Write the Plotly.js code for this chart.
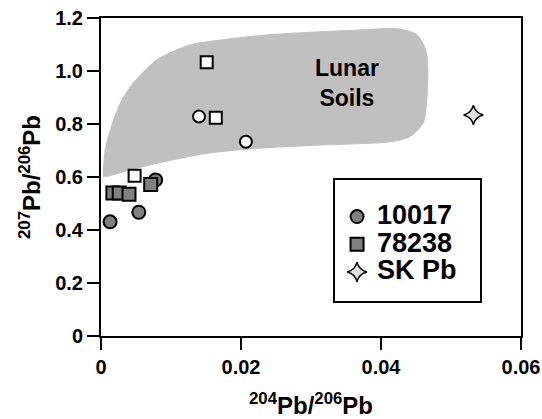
<!DOCTYPE html>
<html>
<head>
<meta charset="utf-8">
<script src="https://cdn.plot.ly/plotly-3.0.1.min.js"></script>
<style>html,body{margin:0;padding:0;background:#fff;}#chart{width:542px;height:419px;}</style>
</head>
<body>
<div id="chart"></div>
<script>
// Sample 10017 (filled grey circles)
const s10017_x = [0.0078, 0.0054, 0.0013];
const s10017_y = [0.589, 0.467, 0.431];
// Sample 78238 (filled grey squares)
const s78238_x = [0.0071, 0.0017, 0.0026, 0.0040];
const s78238_y = [0.572, 0.540, 0.540, 0.535];
// SK Pb (star)
const skpb_x = [0.0532];
const skpb_y = [0.834];
// Lunar soil open circles / squares
const openCirc_x = [0.0140, 0.0207];
const openCirc_y = [0.828, 0.733];
const openSq_x = [0.0048, 0.0151, 0.0164];
const openSq_y = [0.605, 1.033, 0.824];
// Lunar soils field outline
const field_x = [0.0003, 0.0006, 0.0018, 0.0030, 0.0046, 0.0080, 0.0127, 0.0174, 0.0241, 0.0356, 0.0427, 0.0452, 0.0465, 0.0465, 0.0460, 0.0441, 0.0413, 0.0317, 0.0222, 0.0151, 0.0080, 0.0032, 0.0008];
const field_y = [0.601, 0.702, 0.815, 0.891, 0.954, 1.042, 1.098, 1.118, 1.137, 1.153, 1.158, 1.135, 1.067, 0.878, 0.804, 0.752, 0.733, 0.721, 0.708, 0.689, 0.652, 0.620, 0.601];
const seriesNames = ['10017', '78238', 'SK Pb'];
const xTickVals = [0, 0.02, 0.04, 0.06];
const xTickText = ['0', '0.02', '0.04', '0.06'];
const yTickVals = [0, 0.2, 0.4, 0.6, 0.8, 1.0, 1.2];
const yTickText = ['0', '0.2', '0.4', '0.6', '0.8', '1.0', '1.2'];

const FONT = 'Liberation Sans, Arial, sans-serif';
const bold = s => '<b>' + s + '</b>';
const legName = s => '<span style="font-size:27px"><b>' + s + '</b></span>';

const traces = [
  {x: field_x, y: field_y, type: 'scatter', mode: 'lines', fill: 'toself',
   fillcolor: 'rgb(192,192,192)', line: {color: 'rgb(192,192,192)', width: 1, shape: 'spline', smoothing: 0.8},
   showlegend: false, hoverinfo: 'skip'},
  {x: openCirc_x, y: openCirc_y, type: 'scatter', mode: 'markers', showlegend: false,
   marker: {symbol: 'circle', size: 12, color: '#fff', line: {color: '#000', width: 2}}},
  {x: openSq_x, y: openSq_y, type: 'scatter', mode: 'markers', showlegend: false,
   marker: {symbol: 'square', size: 12, color: '#fff', line: {color: '#000', width: 2}}},
  {x: s10017_x, y: s10017_y, type: 'scatter', mode: 'markers', name: legName(seriesNames[0]),
   marker: {symbol: 'circle', size: 13, color: 'rgb(128,128,128)', line: {color: '#000', width: 2}}},
  {x: s78238_x, y: s78238_y, type: 'scatter', mode: 'markers', name: legName(seriesNames[1]),
   marker: {symbol: 'square', size: 13, color: 'rgb(128,128,128)', line: {color: '#000', width: 2}}},
  {x: skpb_x, y: skpb_y, type: 'scatter', mode: 'markers', name: legName(seriesNames[2]),
   marker: {symbol: 'star-diamond', size: 14, color: 'rgb(225,225,225)', line: {color: '#000', width: 1.5}}}
];

const layout = {
  width: 542, height: 419,
  margin: {l: 101, r: 21, t: 18, b: 83},
  paper_bgcolor: '#fff', plot_bgcolor: '#fff',
  font: {family: FONT, color: '#000'},
  showlegend: true,
  legend: {x: 0.562, y: 0.435, xanchor: 'left', yanchor: 'top',
    borderwidth: 0, bgcolor: 'rgba(0,0,0,0)',
    font: {family: FONT, size: 19, color: '#000'}, itemwidth: 30, tracegroupgap: 0},
  shapes: [
    {type: 'rect', xref: 'paper', yref: 'paper', x0: 0.5548, x1: 0.9048, y0: 0.1069, y1: 0.4937,
     line: {color: '#000', width: 2}, fillcolor: 'rgba(0,0,0,0)', layer: 'above'}
  ],
  xaxis: {range: [0, 0.06], tickvals: xTickVals, ticktext: xTickText.map(bold),
    showgrid: false, zeroline: false, showline: true, mirror: true, linecolor: '#000', linewidth: 2,
    ticks: 'outside', ticklen: 12, tickwidth: 2, tickcolor: '#000',
    tickfont: {family: FONT, size: 20, weight: 'bold', color: '#000'},
    title: {text: bold('<sup>204</sup>Pb/<sup>206</sup>Pb'), font: {family: FONT, size: 24, color: '#000'}, standoff: 29}},
  yaxis: {range: [0, 1.2], tickvals: yTickVals, ticktext: yTickText.map(bold),
    showgrid: false, zeroline: false, showline: true, mirror: true, linecolor: '#000', linewidth: 2,
    ticks: 'outside', ticklen: 12, tickwidth: 2, tickcolor: '#000',
    tickfont: {family: FONT, size: 20, weight: 'bold', color: '#000'},
    title: {text: bold('<sup>207</sup>Pb/<sup>206</sup>Pb'), font: {family: FONT, size: 24, color: '#000'}, standoff: 8}},
  annotations: [
    {x: 0.0351, y: 0.955, xref: 'x', yref: 'y', text: bold('Lunar<br>Soils'), showarrow: false,
     font: {family: FONT, size: 23, color: '#000'}, align: 'center'}
  ]
};
Plotly.newPlot('chart', traces, layout, {displayModeBar: false, staticPlot: true});
</script>
</body>
</html>
